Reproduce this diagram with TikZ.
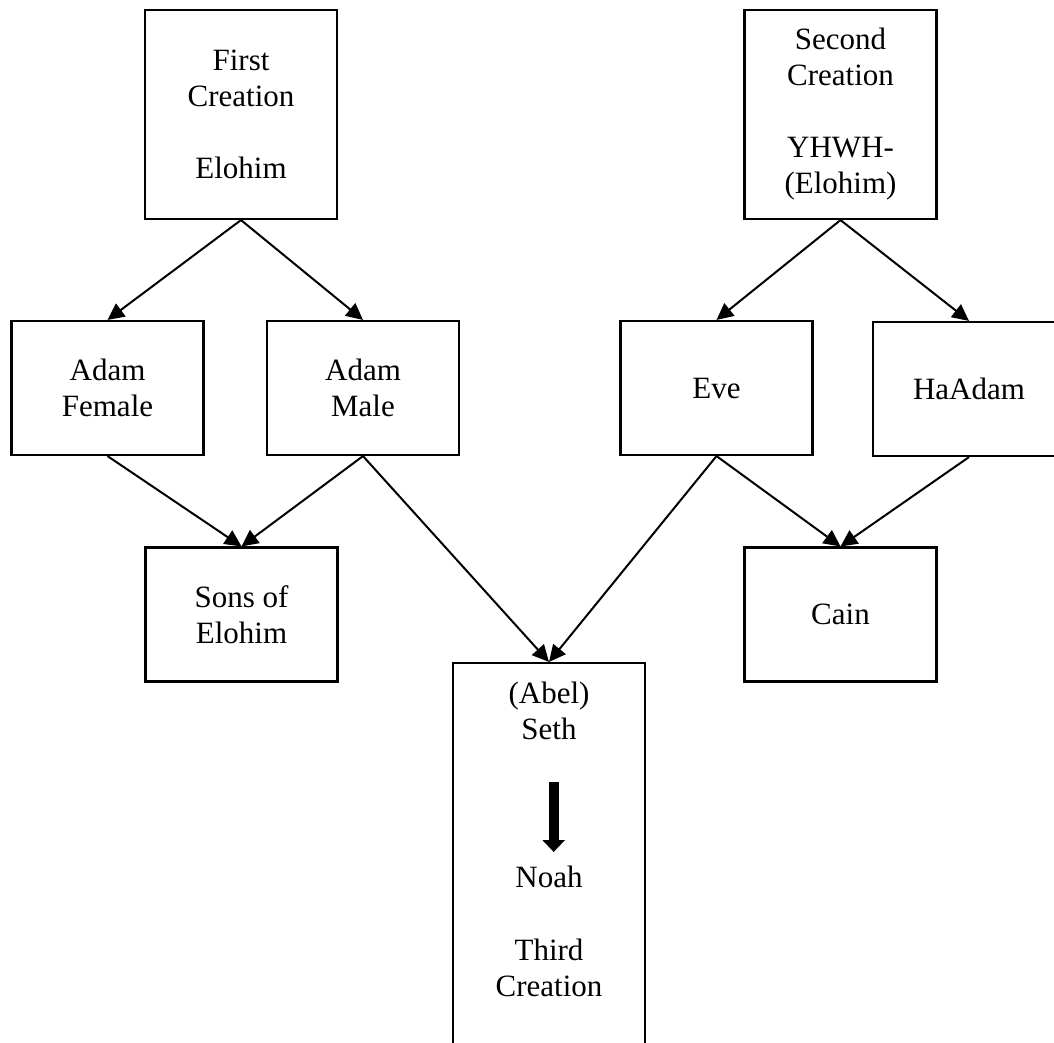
\documentclass[tikz,border=0pt]{standalone}
\usepackage{fontspec}
\setmainfont{Liberation Serif}
\usetikzlibrary{arrows.meta,positioning}

\begin{document}
\begin{tikzpicture}[x=0.75pt,y=-0.75pt,>={Triangle[length=12.5pt,width=12pt]},
    font=\fontsize{23.25}{27}\selectfont]
  \tikzstyle{box}=[rectangle,draw=black,line width=1.6pt,
              minimum width=144pt,align=center,inner sep=0pt]
  \tikzstyle{tall}=[box,minimum height=156.75pt]
  \tikzstyle{mid}=[box,minimum height=100.5pt]
  \tikzstyle{txt}=[align=center,inner sep=0pt]
  \tikzstyle{link}=[->,line width=1.5pt]
  \path[use as bounding box,clip] (0,0) rectangle (1054,1043);
    % creations
    \node [tall] (first) at (241,114.5) {First\\Creation\\[27pt]Elohim};
    \node [tall] (second) at (840.5,114.5) {Second\\Creation\\[27pt]YHWH-\\(Elohim)};
    \node [mid] (female) at (107.5,388) {Adam\\Female};
    \node [mid] (male) at (363,388) {Adam\\Male};
    \node [mid] (eve) at (716.5,388) {Eve};
    \node [mid] (haadam) at (969,389) {HaAdam};
    \node [mid] (sons) at (241.5,614.5) {Sons of\\Elohim};
    \node [mid] (cain) at (840.5,614.5) {Cain};
    % third creation
    \node [box,minimum height=327.75pt] (third) at (549,881.5) {};
    \node [txt] (seth) at (549,711) {(Abel)\\Seth};
    \node [txt] (noah) at (549,876.5) {Noah};
    \node [txt] (tc) at (549,967.5) {Third\\Creation};
    \draw [link] (first.south) -- (female.north);
    \draw [link] (first.south) -- (male.north);
    \draw [link] (second.south) -- (eve.north);
    \draw [link] (second.south) -- (haadam.north);
    \draw [link] (female.south) -- (sons.north);
    \draw [link] (male.south) -- (sons.north);
    \draw [link] (male.south) -- (third.north);
    \draw [link] (eve.south) -- (third.north);
    \draw [link] (eve.south) -- (cain.north);
    \draw [link] (haadam.south) -- (cain.north);
    \draw [-{Triangle[length=9pt,width=16.5pt]},line width=7.5pt,
      shorten <=31.5pt,shorten >=10pt] ([xshift=3.5pt]seth.south) -- ([xshift=3.5pt]noah.north);
\end{tikzpicture}
\end{document}
